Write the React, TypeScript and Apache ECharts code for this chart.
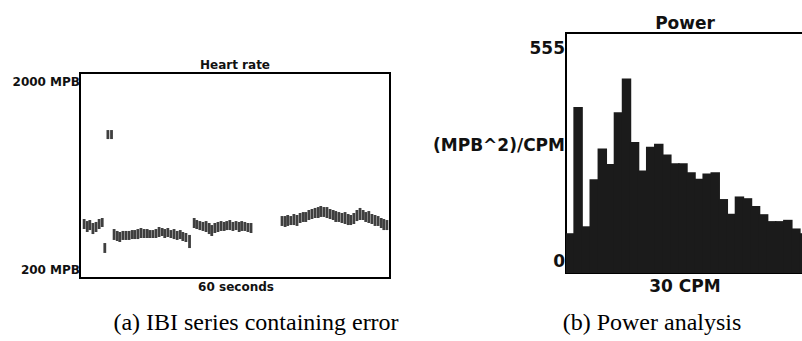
import React, { useEffect, useRef } from "react";
import * as echarts from "echarts";

// Heart rate (IBI) series: time in seconds, low and high value of each beat mark
const ibiTime = [
  0.8, 1.4, 1.9, 2.5, 3.1, 3.7, 4.3, 4.8, 5.4, 6.1,
  6.6, 7.2, 7.7, 8.3, 8.9, 9.5, 10.1, 10.6, 11.2, 11.8, 12.4, 13.0, 13.5, 14.1, 14.7, 15.3, 15.9, 16.4, 17.0, 17.6, 18.2, 18.8, 19.4, 19.9, 20.5, 21.2,
  22.1, 22.6, 23.2, 23.8, 24.4, 25.0, 25.5, 26.1, 26.7, 27.3, 27.9, 28.4, 29.0, 29.6, 30.2, 30.8, 31.3, 31.9, 32.5, 33.1,
  39.1, 39.7, 40.2, 40.8, 41.4, 42.0, 42.6, 43.2, 43.7, 44.3, 44.9, 45.5, 46.1, 46.6, 47.2, 47.8, 48.4, 49.0, 49.5, 50.1, 50.7, 51.3, 51.9, 52.4, 53.0, 53.6, 54.2, 54.8, 55.3, 55.9, 56.5, 57.1, 57.7, 58.3, 58.8, 59.4,
];
const ibiLow = [
  630, 604, 621, 586, 604, 630, 648, 420, 1420, 1420,
  534, 525, 516, 534, 534, 534, 542, 542, 542, 551, 551, 551, 551, 551, 551, 560, 569, 551, 560, 551, 542, 534, 542, 525, 516, 463,
  639, 630, 621, 613, 604, 586, 569, 595, 604, 613, 613, 621, 621, 613, 621, 604, 613, 613, 604, 595,
  657, 648, 657, 665, 665, 657, 683, 692, 692, 709, 718, 727, 727, 736, 736, 727, 718, 709, 692, 692, 683, 674, 665, 665, 674, 700, 709, 709, 692, 683, 674, 657, 657, 639, 621, 621,
];
const ibiHigh = [
  718, 700, 709, 683, 692, 718, 727, 507, 1499, 1499,
  630, 613, 604, 613, 613, 613, 621, 621, 630, 639, 630, 630, 621, 621, 630, 648, 639, 630, 639, 621, 630, 613, 621, 604, 595, 578,
  727, 709, 700, 692, 700, 683, 665, 683, 692, 700, 692, 700, 709, 692, 700, 692, 700, 692, 683, 683,
  744, 744, 753, 744, 762, 753, 771, 779, 779, 797, 806, 815, 823, 832, 823, 823, 806, 797, 788, 779, 771, 779, 762, 753, 771, 797, 815, 797, 779, 788, 762, 753, 744, 727, 718, 709,
];

// Power spectrum bins
const powerValues = [
  92, 384, 108, 217, 288, 252, 372, 450, 303, 237, 292, 299, 274, 254, 254,
  233, 218, 230, 233, 171, 137, 177, 173, 155, 136, 120, 120, 123, 103, 92,
];
const powerBins = powerValues.map((_, i) => String(i + 1));

const heartAxisLabels = ["200 MPB", "2000 MPB"];
const powerAxisLabels = ["0", "(MPB^2)/CPM", "555"];
const titles = ["Heart rate", "Power"];
const xNames = ["60 seconds", "30 CPM"];
const captions = ["(a) IBI series containing error", "(b) Power analysis"];

export default function App() {
  const ref = useRef<HTMLDivElement>(null);
  useEffect(() => {
    if (!ref.current) return;
    const chart = echarts.init(ref.current, null, { renderer: "svg" });
    const sans = "DejaVu Sans";
    const lbl = (text: string, x: number, y: number, size: number, align: string) => ({
      type: "text",
      x,
      y,
      style: {
        text,
        fontFamily: sans,
        fontWeight: "bold",
        fontSize: size,
        fill: "#111",
        align,
        verticalAlign: "middle",
      },
    });
    const ibiData = ibiTime.map((t, i) => [t, ibiLow[i], ibiHigh[i]]);
    const powerData = powerValues.map((v, i) => [i, v]);
    chart.setOption({
      animation: false,
      backgroundColor: "#fff",
      grid: [
        { left: 80, top: 73, width: 310, height: 205, show: true, borderColor: "#000", borderWidth: 2, backgroundColor: "#fff" },
        { left: 566, top: 33, width: 242, height: 240, show: true, borderColor: "#000", borderWidth: 2, backgroundColor: "#fff" },
      ],
      xAxis: [
        { type: "value", gridIndex: 0, min: 0, max: 60, show: false },
        { type: "category", gridIndex: 1, data: powerBins, show: false },
      ],
      yAxis: [
        { type: "value", gridIndex: 0, min: 200, max: 2000, show: false },
        { type: "value", gridIndex: 1, min: 0, max: 555, show: false },
      ],
      series: [
        {
          type: "custom",
          xAxisIndex: 0,
          yAxisIndex: 0,
          data: ibiData,
          renderItem: (params: any, api: any) => {
            const t = api.value(0);
            const lo = api.value(1);
            const hi = api.value(2);
            const top = api.coord([t, hi]);
            const bot = api.coord([t, lo]);
            return {
              type: "rect",
              shape: { x: top[0] - 1.4, y: top[1], width: 2.8, height: bot[1] - top[1] },
              style: { fill: "#3f3f3f" },
            };
          },
        },
        {
          type: "custom",
          xAxisIndex: 1,
          yAxisIndex: 1,
          data: powerData,
          clip: true,
          renderItem: (params: any, api: any) => {
            const i = api.value(0);
            const v = api.value(1);
            const top = api.coord([i, v]);
            const base = api.coord([i, 0]);
            const w = api.size([1, 0])[0];
            return {
              type: "rect",
              shape: { x: top[0] - w / 2 - 0.7, y: top[1], width: w + 1.4, height: base[1] - top[1] },
              style: { fill: "#1b1b1b" },
            };
          },
        },
      ],
      graphic: [
        lbl(titles[0], 235, 65, 12, "center"),
        lbl(heartAxisLabels[1], 80, 82, 12, "right"),
        lbl(heartAxisLabels[0], 80, 270, 12, "right"),
        lbl(xNames[0], 236, 287, 12, "center"),
        lbl(titles[1], 685, 23, 17, "center"),
        lbl(powerAxisLabels[2], 565, 48, 17, "right"),
        lbl(powerAxisLabels[1], 565, 145, 17, "right"),
        lbl(powerAxisLabels[0], 565, 261, 17, "right"),
        lbl(xNames[1], 685, 286, 17, "center"),
        {
          type: "text",
          x: 256,
          y: 322,
          style: { text: captions[0], fontFamily: "Liberation Serif", fontSize: 24, fill: "#000", align: "center", verticalAlign: "middle" },
        },
        {
          type: "text",
          x: 652,
          y: 322,
          style: { text: captions[1], fontFamily: "Liberation Serif", fontSize: 24, fill: "#000", align: "center", verticalAlign: "middle" },
        },
      ],
    });
    return () => chart.dispose();
  }, []);
  return (
    <div style={{ position: "absolute", left: 0, top: 0, width: 802, height: 341, overflow: "hidden", background: "#fff" }}>
      <div ref={ref} style={{ width: 808, height: 341 }} />
    </div>
  );
}
